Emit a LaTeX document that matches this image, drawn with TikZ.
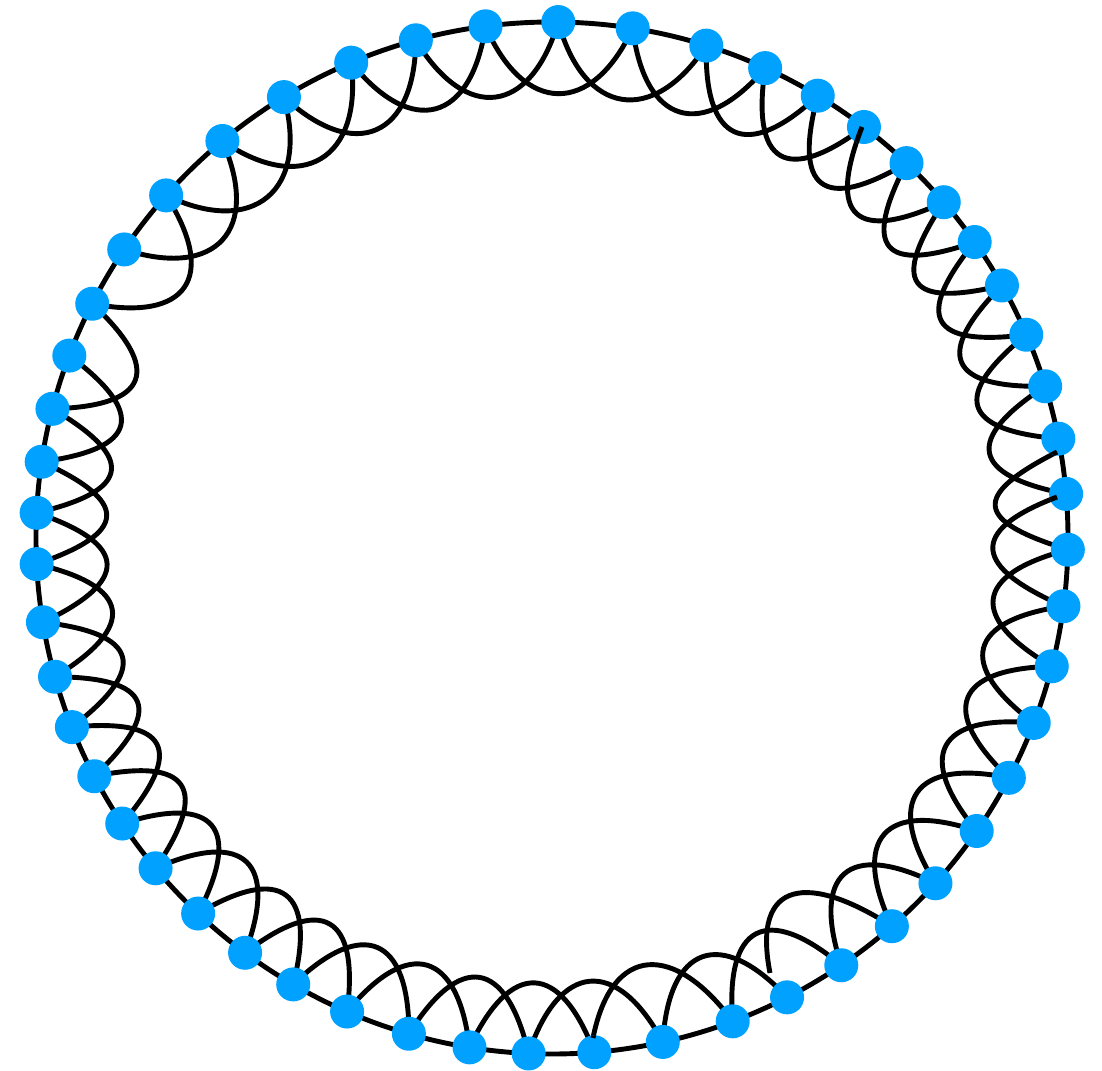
\documentclass[tikz,border=0pt]{standalone}
\definecolor{dotblue}{RGB}{0,161,255}
\pgfdeclarelayer{bg}
\pgfsetlayers{bg,main}
\begin{document}
\begin{tikzpicture}[x=1pt,y=1pt,
  dot/.style={circle,fill=dotblue,draw=none,inner sep=0pt,minimum size=34pt},
  ring/.style={line width=4.9pt,black},
  coil/.style={line width=4.9pt,black}]
\useasboundingbox (-552,-532) rectangle (550,538);
\def\angs{{89.3,81.0,72.6,65.6,59.0,52.8,46.6,40.6,35.0,29.3,23.2,17.1,11.1,4.9,-1.3,-7.6,-14.4,-21.0,-27.7,-34.6,-42.0,-48.8,-55.9,-62.9,-69.5,-77.6,-85.3,-92.6,-99.2,-106.1,-113.4,-120.1,-126.5,-133.3,-140.2,-146.4,-152.5,-158.5,-164.4,-170.6,-177.1,177.2,171.5,165.5,159.3,153.0,146.0,138.4,129.7,121.3,112.9,105.3,97.4}}
\def\dl{16}
\def\dd{97pt}
\coordinate (c) at (0,0);
% nodes
\foreach \i in {1,...,53}{
  \pgfmathsetmacro\angA{\angs[\i-1]}
  \node[dot] (n\i) at (\angA:516) {};
}
% special end points
\coordinate (s6) at (310,411);
\coordinate (s13) at (505,86);
\coordinate (s14) at (505,41);
\coordinate (e25) at (41,-500);
\coordinate (e22) at (218,-435);
\begin{pgfonlayer}{bg}
  \draw[ring] (c) circle[radius=516];
  \foreach \i in {1,...,5,7,8,9,10,11,12,15,16,...,21,23,24,26,27,...,44,46,47,...,53}{
    \pgfmathtruncatemacro\j{mod(\i+1,53)+1}
    \pgfmathsetmacro\aout{\angs[\i-1]+180+\dl}
    \pgfmathsetmacro\ain{\angs[\j-1]+180-\dl}
    \draw[coil] (n\i.center) to[out=\aout,in=\ain,distance=\dd] (n\j.center);
  }
  \draw[coil] (s6) to[out={52.8+180+\dl},in={40.6+180-\dl},distance=\dd] (n8.center);
  \draw[coil] (s13) to[out={11.1+180+\dl},in={-1.3+180-\dl},distance=\dd] (n15.center);
  \draw[coil] (s14) to[out={4.9+180+\dl},in={-7.6+180-\dl},distance=\dd] (n16.center);
  \draw[coil] (n25.center) to[out={-69.5+180+\dl},in={-85.3+180-\dl},distance=\dd] (e25);
  \draw[coil] (n22.center) to[out={-48.8+180+\dl},in={-62.9+180-\dl},distance=\dd] (e22);
\end{pgfonlayer}
% curve ends drawn over their nodes
\begin{scope}
  \clip (n6.center) circle[radius=17];
  \draw[coil] (s6) to[out={52.8+180+\dl},in={40.6+180-\dl},distance=\dd] (n8.center);
\end{scope}
\begin{scope}
  \clip (n13.center) circle[radius=17];
  \draw[coil] (s13) to[out={11.1+180+\dl},in={-1.3+180-\dl},distance=\dd] (n15.center);
\end{scope}
\begin{scope}
  \clip (n14.center) circle[radius=17];
  \draw[coil] (s14) to[out={4.9+180+\dl},in={-7.6+180-\dl},distance=\dd] (n16.center);
\end{scope}
\begin{scope}
  \clip (n27.center) circle[radius=17];
  \draw[coil] (n25.center) to[out={-69.5+180+\dl},in={-85.3+180-\dl},distance=\dd] (e25);
\end{scope}
\end{tikzpicture}
\end{document}
